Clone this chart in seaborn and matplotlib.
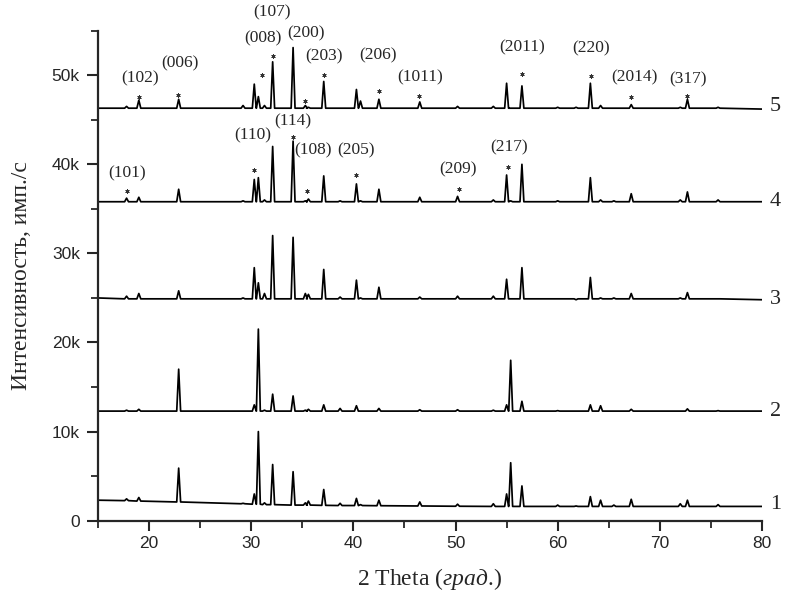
import numpy as np
import pandas as pd
import matplotlib
matplotlib.use('Agg')
import matplotlib.pyplot as plt
import seaborn as sns
from matplotlib.ticker import MultipleLocator, FuncFormatter

# peak positions, 2 theta (deg)
two_theta = [17.8, 19.0, 22.9, 29.2, 30.3, 30.7, 31.3, 32.1, 34.1, 35.3, 35.6, 37.1,
             38.7, 40.3, 40.7, 42.5, 46.5, 50.2, 53.7, 55.0, 55.4, 56.5, 60.0, 61.8,
             63.2, 64.2, 65.5, 67.2, 72.0, 72.7, 75.7]

# peak tops, thousands of counts/s
top1 = [2.45, 2.6, 5.9, 1.95, 3.0, 10.0, 2.0, 6.3, 5.5, 2.0, 2.2, 3.5,
        1.95, 2.5, 1.8, 2.3, 2.1, 1.85, 1.9, 3.0, 6.5, 3.9, 1.75, 1.65,
        2.7, 2.3, 1.75, 2.4, 1.9, 2.3, 1.8]
top2 = [12.4, 12.5, 17.0, 12.3, 13.0, 21.5, 12.4, 14.2, 14.0, 12.4, 12.5, 13.0,
        12.6, 12.9, 12.3, 12.6, 12.45, 12.45, 12.4, 13.0, 18.0, 13.4, 12.35, 12.3,
        13.0, 12.9, 12.3, 12.5, 12.3, 12.55, 12.35]
top3 = [25.2, 25.5, 25.8, 25.0, 28.4, 26.7, 25.5, 32.0, 31.8, 25.5, 25.4, 28.2,
        25.1, 27.0, 25.0, 26.2, 25.1, 25.2, 25.2, 27.1, 24.9, 28.4, 24.9, 24.8,
        27.3, 25.0, 25.0, 25.5, 25.0, 25.6, 24.9]
top4 = [36.2, 36.3, 37.2, 35.9, 38.3, 38.5, 36.0, 42.0, 42.6, 35.9, 36.1, 38.7,
        35.9, 37.8, 35.9, 37.2, 36.3, 36.4, 36.0, 38.8, 35.9, 40.0, 35.9, 35.8,
        38.5, 36.0, 35.9, 36.7, 36.0, 36.9, 36.0]
top5 = [46.5, 47.2, 47.3, 46.6, 49.0, 47.6, 46.6, 51.5, 53.1, 46.6, 46.4, 49.3,
        46.3, 48.4, 47.1, 47.3, 47.0, 46.5, 46.5, 49.1, 46.3, 48.8, 46.4, 46.4,
        49.1, 46.6, 46.3, 46.7, 46.4, 47.3, 46.4]

# background under each peak, plus the values at 15 and 80 deg
bg1 = [2.25, 2.2, 2.1, 1.9, 1.85, 1.85, 1.8, 1.8, 1.75, 1.75, 1.75, 1.72,
       1.7, 1.7, 1.7, 1.68, 1.65, 1.62, 1.6, 1.6, 1.6, 1.6, 1.6, 1.6,
       1.6, 1.6, 1.6, 1.6, 1.6, 1.6, 1.6]
ends1 = [2.3, 1.6]
bg2, ends2 = 12.3, [12.3, 12.3]
bg3, ends3 = 24.9, [25.0, 24.8]
bg4, ends4 = 35.8, [35.8, 35.8]
bg5, ends5 = 46.3, [46.3, 46.2]

curve_names = ['1', '2', '3', '4', '5']
label_y = [1.8, 12.3, 24.8, 35.8, 46.5]

hkl_text = ['(102)', '(006)', '(107)', '(008)', '(200)', '(203)', '(206)', '(1011)',
            '(2011)', '(220)', '(2014)', '(317)',
            '(101)', '(110)', '(114)', '(108)', '(205)', '(209)', '(217)']
hkl_x = [19.1, 23.0, 32.0, 31.15, 35.4, 37.15, 42.45, 46.5, 56.5, 63.25, 67.5, 72.8,
         17.8, 30.2, 34.1, 36.0, 40.3, 50.2, 55.2]
hkl_y = [49.6, 51.3, 57.1, 54.1, 54.65, 52.1, 52.2, 49.8, 53.1, 53.0, 49.8, 49.5,
         39.0, 43.2, 44.8, 41.6, 41.6, 39.4, 41.9]

star_x = [19.0, 22.8, 31.1, 32.1, 35.3, 37.15, 42.5, 46.4, 56.5, 63.3, 67.2, 72.7,
          17.8, 30.3, 34.1, 35.5, 40.3, 50.3, 55.1]
star_y = [47.5, 47.75, 50.0, 52.2, 47.1, 50.0, 48.2, 47.7, 50.1, 49.9, 47.6, 47.7,
          37.0, 39.4, 43.1, 37.0, 38.8, 37.2, 39.7]

HALF = 0.19  # half width of a peak foot, deg


def build_curve(name, tops, bg, ends):
    bg = np.broadcast_to(np.asarray(bg, dtype=float), (len(tops),))
    xs, ys = [15.0], [ends[0]]
    for pos, top, base in zip(two_theta, tops, bg):
        xs += [pos - HALF, pos, pos + HALF]
        ys += [base, top, base]
    xs.append(80.0)
    ys.append(ends[1])
    return pd.DataFrame({'theta': xs, 'counts': np.array(ys) * 1000, 'sample': name})


df = pd.concat([
    build_curve('1', top1, bg1, ends1),
    build_curve('2', top2, bg2, ends2),
    build_curve('3', top3, bg3, ends3),
    build_curve('4', top4, bg4, ends4),
    build_curve('5', top5, bg5, ends5),
], ignore_index=True)

sns.set_style('ticks')
plt.rcParams['font.family'] = ['Liberation Sans', 'DejaVu Sans']
plt.rcParams['mathtext.fontset'] = 'custom'
plt.rcParams['mathtext.rm'] = 'Liberation Serif'
plt.rcParams['mathtext.it'] = 'Liberation Serif:italic'

fig = plt.figure(figsize=(7.85, 5.98), dpi=100)
ax = fig.add_axes([0.1248, 0.1293, 0.8459, 0.8194])

sns.lineplot(data=df, x='theta', y='counts', hue='sample', palette=['black'] * 5,
             estimator=None, sort=False, legend=False, linewidth=1.25, ax=ax)

stars = pd.DataFrame({'x': star_x, 'y': np.array(star_y) * 1000})
sns.scatterplot(data=stars, x='x', y='y', marker=(6, 2, 0), s=7, color='#333333',
                linewidth=0.6, ax=ax)

serif = ['Liberation Serif', 'DejaVu Serif']
for t, x, y in zip(hkl_text, hkl_x, hkl_y):
    ax.text(x, y * 1000, t, family=serif, fontsize=12.5, ha='center', va='center',
            clip_on=False)

for name, y in zip(curve_names, label_y):
    ax.text(81.3, y * 1000, name, family=serif, fontsize=16, ha='center', va='center',
            clip_on=False)

ax.set_xlim(15, 80)
ax.set_ylim(0, 55000)
ax.xaxis.set_major_locator(MultipleLocator(10))
ax.xaxis.set_minor_locator(MultipleLocator(5))
ax.yaxis.set_major_locator(MultipleLocator(10000))
ax.yaxis.set_minor_locator(MultipleLocator(5000))
ax.yaxis.set_major_formatter(FuncFormatter(lambda v, p: '0' if v == 0 else f'{int(v / 1000)}k'))

sns.despine(ax=ax)
for side in ['left', 'bottom']:
    ax.spines[side].set_linewidth(1.6)
ax.tick_params(axis='both', which='major', direction='out', width=1.5, labelsize=12.5)
ax.tick_params(axis='y', which='major', length=8, pad=5)
ax.tick_params(axis='x', which='major', length=7, pad=4)
ax.tick_params(axis='both', which='minor', direction='out', length=5, width=1.3)

ax.set_xlabel(r'2 Theta ($\mathit{град.}\!$)', family=serif, fontsize=17, labelpad=11)
ax.set_ylabel('Интенсивность, имп./с', family=serif, fontsize=17)
ax.yaxis.set_label_coords(-0.10, 0.5)

plt.savefig('out.png', dpi=100)
